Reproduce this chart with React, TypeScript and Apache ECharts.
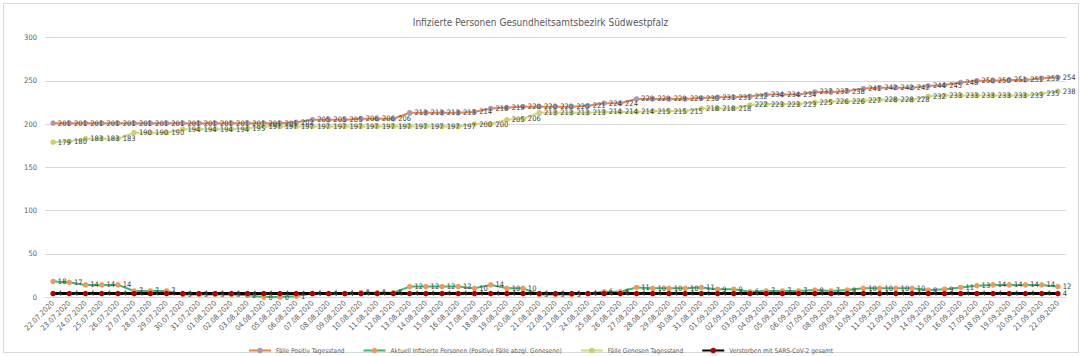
import React, { useEffect, useRef } from "react";
import * as echarts from "echarts";

const dates = [
  "22.07.2020", "23.07.2020", "24.07.2020", "25.07.2020", "26.07.2020", "27.07.2020", "28.07.2020", "29.07.2020", "30.07.2020", "31.07.2020",
  "01.08.2020", "02.08.2020", "03.08.2020", "04.08.2020", "05.08.2020", "06.08.2020", "07.08.2020", "08.08.2020", "09.08.2020", "10.08.2020",
  "11.08.2020", "12.08.2020", "13.08.2020", "14.08.2020", "15.08.2020", "16.08.2020", "17.08.2020", "18.08.2020", "19.08.2020", "20.08.2020",
  "21.08.2020", "22.08.2020", "23.08.2020", "24.08.2020", "25.08.2020", "26.08.2020", "27.08.2020", "28.08.2020", "29.08.2020", "30.08.2020",
  "31.08.2020", "01.09.2020", "02.09.2020", "03.09.2020", "04.09.2020", "05.09.2020", "06.09.2020", "07.09.2020", "08.09.2020", "09.09.2020",
  "10.09.2020", "11.09.2020", "12.09.2020", "13.09.2020", "14.09.2020", "15.09.2020", "16.09.2020", "17.09.2020", "18.09.2020", "19.09.2020",
  "20.09.2020", "21.09.2020", "22.09.2020",
];

const positiv = [
  201, 201, 201, 201, 201, 201, 201, 201, 201, 201,
  201, 201, 201, 201, 201, 202, 205, 205, 205, 206,
  206, 206, 213, 213, 213, 213, 214, 218, 219, 220,
  220, 220, 220, 221, 224, 224, 229, 229, 229, 229,
  230, 231, 231, 232, 234, 234, 234, 237, 237, 238,
  241, 242, 242, 242, 244, 245, 248, 250, 250, 251,
  251, 253, 254,
];

const aktuell = [
  18, 17, 14, 14, 14, 7, 7, 7, 3, 3,
  3, 3, 2, 0, 0, 1, 4, 4, 4, 5,
  5, 5, 12, 12, 12, 12, 10, 14, 10, 10,
  3, 3, 3, 4, 6, 6, 11, 10, 10, 10,
  11, 9, 9, 6, 7, 7, 7, 8, 7, 8,
  10, 10, 10, 10, 8, 9, 11, 13, 14, 14,
  14, 14, 12,
];

const genesen = [
  179, 180, 183, 183, 183, 190, 190, 190, 194, 194,
  194, 194, 195, 197, 197, 197, 197, 197, 197, 197,
  197, 197, 197, 197, 197, 197, 200, 200, 205, 206,
  213, 213, 213, 213, 214, 214, 214, 215, 215, 215,
  218, 218, 218, 222, 223, 223, 223, 225, 226, 226,
  227, 228, 228, 228, 232, 233, 233, 233, 233, 233,
  233, 235, 238,
];

const verstorben = [
  4, 4, 4, 4, 4, 4, 4, 4, 4, 4,
  4, 4, 4, 4, 4, 4, 4, 4, 4, 4,
  4, 4, 4, 4, 4, 4, 4, 4, 4, 4,
  4, 4, 4, 4, 4, 4, 4, 4, 4, 4,
  4, 4, 4, 4, 4, 4, 4, 4, 4, 4,
  4, 4, 4, 4, 4, 4, 4, 4, 4, 4,
  4, 4, 4,
];

const title = "Infizierte Personen Gesundheitsamtsbezirk Südwestpfalz";
const FONT = "'Liberation Sans Narrow', 'DejaVu Sans Condensed', 'Open Sans', sans-serif";

export default function App() {
  const ref = useRef<HTMLDivElement>(null);
  useEffect(() => {
    const chart = echarts.init(ref.current!, null, { renderer: "svg" });
    const mk = (name: string, data: number[], lineColor: string, markColor: string, lineWidth: number) => ({
      name,
      type: "line",
      data,
      symbol: "circle",
      symbolSize: 5.5,
      lineStyle: { color: lineColor, width: lineWidth },
      itemStyle: { color: markColor, borderColor: markColor, borderWidth: 0 },
      label: {
        show: true,
        position: "right",
        distance: 2,
        fontSize: 7.5,
        color: "#404040",
        fontFamily: FONT,
      },
      emphasis: { disabled: true },
    });
    chart.setOption({
      animation: false,
      backgroundColor: "#ffffff",
      textStyle: { fontFamily: FONT },
      title: {
        text: title,
        left: "center",
        top: 12,
        textStyle: { fontSize: 10, fontWeight: "normal", color: "#595959", fontFamily: FONT },
      },
      graphic: [
        {
          type: "rect",
          shape: { x: 3.5, y: 3.5, width: 1075, height: 349 },
          style: { fill: "none", stroke: "#D9D9D9", lineWidth: 1 },
          silent: true,
        },
      ],
      grid: { left: 45, right: 15, top: 37.5, bottom: 59, containLabel: false },
      legend: {
        top: 342,
        left: "center",
        itemWidth: 22,
        itemHeight: 7,
        itemGap: 18,
        textStyle: { fontSize: 6.5, color: "#595959", fontFamily: FONT },
        data: [
          "Fälle Positiv Tagesstand",
          "Aktuell Infizierte Personen (Positive Fälle abzgl. Genesene)",
          "Fälle Genesen Tagesstand",
          "Verstorben mit SARS-CoV-2 gesamt",
        ],
      },
      xAxis: {
        type: "category",
        data: dates,
        boundaryGap: true,
        axisLine: { show: true, lineStyle: { color: "#D9D9D9", width: 1 } },
        axisTick: { show: false },
        axisLabel: {
          interval: 0,
          rotate: 45,
          fontSize: 7.5,
          color: "#595959",
          margin: 5,
          fontFamily: FONT,
        },
      },
      yAxis: {
        type: "value",
        min: 0,
        max: 300,
        interval: 50,
        axisLine: { show: false },
        axisTick: { show: false },
        splitLine: { lineStyle: { color: "#D9D9D9", width: 1 } },
        axisLabel: { fontSize: 7.5, color: "#595959", margin: 8, fontFamily: FONT },
      },
      series: [
        mk("Fälle Positiv Tagesstand", positiv, "#E9834F", "#A99BAE", 2),
        mk("Aktuell Infizierte Personen (Positive Fälle abzgl. Genesene)", aktuell, "#3DB86E", "#EE9A5C", 2),
        mk("Fälle Genesen Tagesstand", genesen, "#C7DA8E", "#CCCF6A", 2),
        mk("Verstorben mit SARS-CoV-2 gesamt", verstorben, "#000000", "#B00000", 3),
      ],
    });
    return () => chart.dispose();
  }, []);
  return (
    <div
      ref={ref}
      style={{ position: "fixed", left: 0, top: 0, width: 1081, height: 356, background: "#fff" }}
    />
  );
}
